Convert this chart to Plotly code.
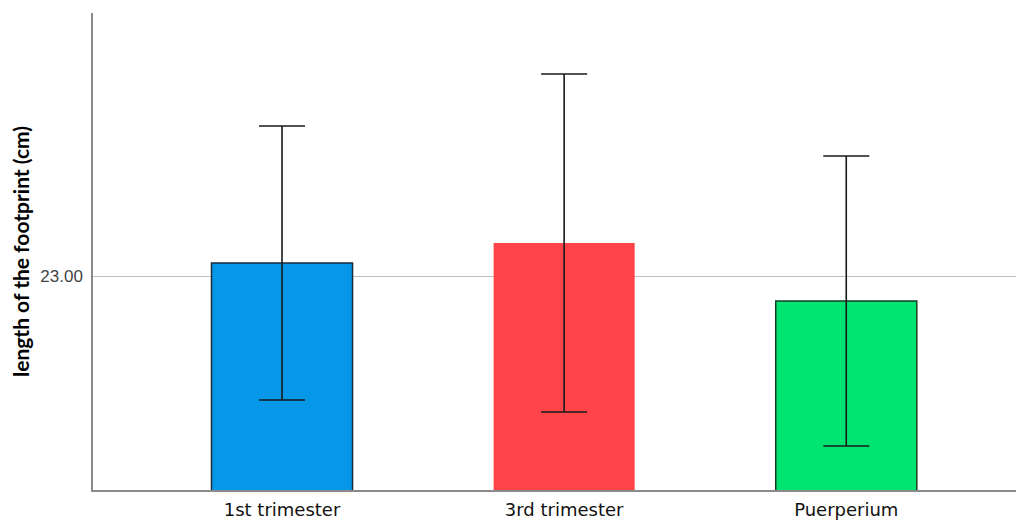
import plotly.graph_objects as go

categories = ["1st trimester", "3rd trimester", "Puerperium"]
means = [23.0325, 23.0825, 22.9375]
errors = [0.3425, 0.4225, 0.3625]
colors = ["#0797e8", "#ff4449", "#00e472"]
outlines = ["#1c2a3a", "rgba(0,0,0,0)", "#123c22"]

fig = go.Figure()
fig.add_trace(go.Bar(
    x=[0, 1, 2], y=means,
    width=0.5,
    marker=dict(color=colors, line=dict(color=outlines, width=1.5)),
    error_y=dict(type="data", array=errors, visible=True,
                 color="#1a1a1a", thickness=1.6, width=23),
    showlegend=False,
))

fig.update_layout(
    width=1016, height=512,
    margin=dict(l=85, r=0, t=5, b=30),
    paper_bgcolor="white", plot_bgcolor="white",
    font=dict(family="DejaVu Sans", color="#111"),
)
fig.update_xaxes(
    range=[-0.67, 2.63],
    tickvals=[0, 1, 2], ticktext=categories,
    tickfont=dict(size=18, color="#111", family="DejaVu Sans"),
    ticklabelstandoff=3,
    showline=True, linecolor="#8a8a8a", linewidth=1.5,
    showgrid=False, zeroline=False, ticks="", ticklen=0,
)
fig.update_yaxes(
    range=[22.465, 23.6575],
    tickvals=[23.0], ticktext=["23.00"],
    tickfont=dict(size=17, color="#444", family="Liberation Sans"),
    ticklabelstandoff=5,
    showline=True, linecolor="#8a8a8a", linewidth=1.5,
    showgrid=True, gridcolor="#bdbdbd", gridwidth=1.3,
    zeroline=False, ticks="",
    title=dict(text="<b>length of the footprint (cm)</b>",
               font=dict(size=21, color="#000", family="Lato"), standoff=10),
)
fig.write_html("out.html")
